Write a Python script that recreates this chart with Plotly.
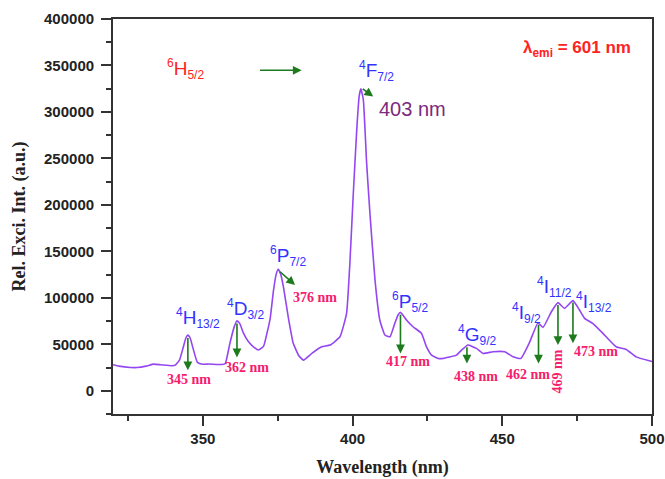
import plotly.graph_objects as go

# Excitation spectrum
wavelength = [320, 322, 325.8, 328, 331, 333.6, 336, 339.7, 340.8, 342.2, 343.4, 344.3, 345, 345.8, 346.7, 348.2, 350, 352,
              356.4, 357.5, 359.1, 360.5, 361.4, 362.3, 363.6, 365.2, 366.9, 368.6, 370.3, 371.4, 372.5, 373.6,
              374.5, 375.2, 376.0, 376.9, 378.6, 380.2, 382, 383.6, 386.4, 389.7, 392.5, 395.8, 398, 399.1, 400.2, 401.4,
              402.2, 402.8, 403.6, 404.7, 405.8, 407.5, 409.1, 410.8, 412.5, 414.1, 415.2, 416, 416.9, 418, 420.2, 423,
              424.7, 426.4, 428.6, 430.2, 432.5, 434.7, 436.5, 438.5, 441.4, 443.6, 446.9, 450.8, 453.6,
              456.2, 459.1, 461.9, 463.6, 466.4, 468.6, 470.8, 473.6, 475.8, 477.5, 480.2, 483.6, 488,
              491.4, 494.7, 499.1, 500]
intensity = [28000, 26500, 25100, 25000, 26500, 28700, 28000, 26900, 27600, 33000, 46000, 56500, 60000, 56500, 46000, 30500, 28500, 28800,
             28300, 29400, 52000, 69000, 75300, 72500, 61800, 53000, 47300, 43800, 48000, 61800, 78000, 108000,
             125500, 130800, 125500, 112000, 78000, 51000, 38000, 33000, 40200, 47300, 49200, 58100, 83300, 137000, 209000, 281000,
             316800, 324800, 313000, 245000, 191000, 119000, 76100, 60000, 58100, 72500, 81500, 84400, 81000, 76100, 68900, 61800,
             47300, 38400, 34800, 34800, 36500, 38400, 44000, 49200, 45600, 40200, 42000, 42000, 36500,
             34800, 52000, 73000, 68200, 85000, 94800, 88700, 97000, 86900, 77900, 72500, 61800, 47300,
             44500, 36500, 32200, 31500]

peak_labels = ["345 nm", "362 nm", "376 nm", "403 nm", "417 nm", "438 nm", "462 nm", "469 nm", "473 nm"]
transition_sup = ["4", "4", "6", "4", "6", "4", "4", "4", "4"]
transition_sym = ["H", "D", "P", "F", "P", "G", "I", "I", "I"]
transition_sub = ["13/2", "3/2", "7/2", "7/2", "5/2", "9/2", "9/2", "11/2", "13/2"]

x_ticks = [350, 400, 450, 500]
y_ticks = [0, 50000, 100000, 150000, 200000, 250000, 300000, 350000, 400000]

SANS = "Liberation Sans, Arial, sans-serif"
SERIF = "Liberation Serif, Times New Roman, serif"
BLUE = "#3333ff"
GREEN = "#1d7a1d"
PINK = "#f5206b"
RED = "#ff2222"


def term(sup, sym, sub):
    return (f"<sup><span style='font-size:12px'>{sup}</span></sup>{sym}"
            f"<sub><span style='font-size:12px'>{sub}</span></sub>")


fig = go.Figure()
fig.add_trace(go.Scatter(x=wavelength, y=intensity, mode="lines",
                         line=dict(color="#9447f0", width=1.6, shape="spline", smoothing=0.4),
                         showlegend=False, hoverinfo="skip"))

ann = []
# transition labels: (left x, centre y)
trans_pos = [(340.5, 78500), (357.5, 87500), (371.9, 145500), (401.6, 344500), (412.5, 95000),
             (434.7, 60500), (452.7, 84000), (460.8, 112000), (474.1, 96000)]
for sup, sym, sub, (xl, yc) in zip(transition_sup, transition_sym, transition_sub, trans_pos):
    ann.append(dict(x=xl, y=yc, xanchor="left", yanchor="middle", showarrow=False,
                    text=term(sup, sym, sub),
                    font=dict(family=SANS, size=19, color=BLUE)))

# ground state label
ann.append(dict(x=337.5, y=346000, xanchor="left", yanchor="middle", showarrow=False,
                text=term("6", "H", "5/2"), font=dict(family=SANS, size=19, color=RED)))
# emission label
ann.append(dict(x=456.4, y=368000, xanchor="left", yanchor="middle", showarrow=False,
                text="<b>λ<sub>emi</sub> = 601 nm</b>", font=dict(family=SANS, size=17, color=RED)))

# arrows: (head x, head y, tail x, tail y)
arrows = [(345.0, 22000, 345.0, 58500), (361.4, 35900, 361.4, 74000), (380.8, 113700, 375.3, 129500),
          (406.9, 316500, 402.9, 326000), (416.0, 40200, 416.0, 83500), (438.2, 29400, 438.2, 48500),
          (462.1, 29400, 462.1, 72500), (468.6, 49200, 468.6, 94000), (473.6, 51000, 473.6, 96500),
          (383.0, 344800, 368.6, 344800)]
for hx, hy, tx, ty in arrows:
    ann.append(dict(x=hx, y=hy, ax=tx, ay=ty, axref="x", ayref="y", xref="x", yref="y",
                    text="", showarrow=True, arrowhead=2, arrowsize=1.1, arrowwidth=1.6,
                    arrowcolor=GREEN, standoff=0, startstandoff=0))

# peak value labels: (centre x, centre y, angle)
lab_pos = [(345.4, 12500, 0), (364.8, 24900, 0), (387.3, 100400, 0), (408.0, 303000, 0), (418.6, 31900, 0),
           (441.2, 15200, 0), (458.5, 17900, 0), (468.5, 20400, -90), (481.4, 42100, 0)]
for lab, (xc, yc, ang) in zip(peak_labels, lab_pos):
    if lab == "403 nm":
        ann.append(dict(x=xc, y=yc, xanchor="left", yanchor="middle", showarrow=False, text=lab,
                        font=dict(family=SANS, size=20, color="#7b2a7e")))
    else:
        ann.append(dict(x=xc, y=yc, xanchor="center", yanchor="middle", showarrow=False,
                        text=f"<b>{lab}</b>", textangle=ang,
                        font=dict(family=SERIF, size=14, color=PINK)))

fig.update_layout(
    width=665, height=479,
    margin=dict(l=113, r=13, t=19, b=65),
    paper_bgcolor="white", plot_bgcolor="white",
    annotations=ann,
    showlegend=False,
)
fig.update_xaxes(range=[320, 500], tickvals=x_ticks, ticks="outside", ticklen=10, tickwidth=1.5,
                 tickcolor="#333", showline=True, linecolor="#333", linewidth=1.8, mirror=True,
                 showgrid=False, zeroline=False, automargin=False, tickformat="d",
                 minor=dict(dtick=25, tick0=0, ticks="outside", ticklen=5, tickwidth=1.5, tickcolor="#333"),
                 tickfont=dict(family=SANS, size=15, color="#222", weight="bold"),
                 title=dict(text="<b>Wavelength (nm)</b>", font=dict(family=SERIF, size=18, color="#222"),
                            standoff=14))
fig.update_yaxes(range=[-25000, 400000], tickvals=y_ticks, ticks="outside", ticklen=10, tickwidth=1.5,
                 tickcolor="#333", showline=True, linecolor="#333", linewidth=1.8, mirror=True,
                 showgrid=False, zeroline=False, ticklabelstandoff=4, automargin=False, tickformat="d",
                 minor=dict(dtick=25000, tick0=0, ticks="outside", ticklen=5, tickwidth=1.5, tickcolor="#333"),
                 tickfont=dict(family=SANS, size=15, color="#222", weight="bold"),
                 title=dict(text="<b>Rel. Exci. Int. (a.u.)</b>", font=dict(family=SERIF, size=18, color="#222"),
                            standoff=14))

# remove the default page margin so the 665x479 figure fills the window exactly
fig.write_html("out.html", config={"displayModeBar": False},
               post_script="document.body.style.margin='0';document.body.style.overflow='hidden';")
